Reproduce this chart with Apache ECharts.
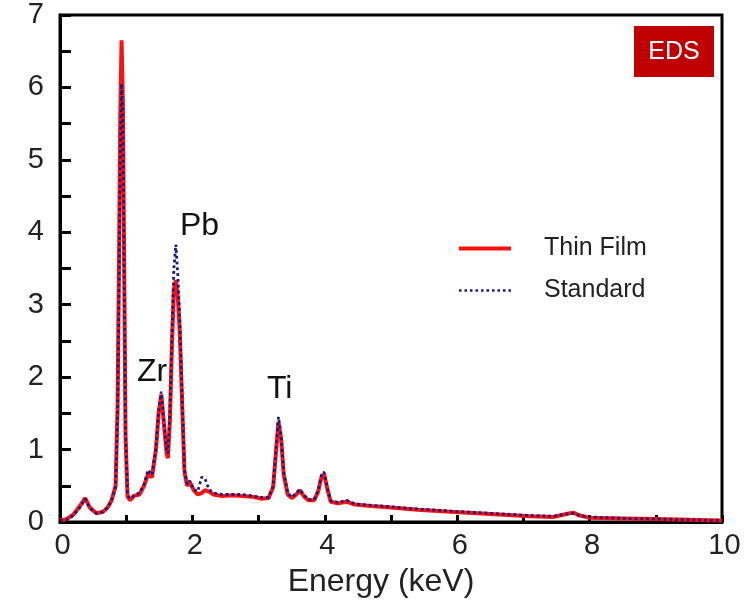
<!DOCTYPE html>
<html>
<head>
<meta charset="utf-8">
<script src="https://cdn.jsdelivr.net/npm/echarts@6/dist/echarts.min.js"></script>
<style>
  html, body { margin: 0; padding: 0; background: #fff; }
  #chart { width: 747px; height: 608px; }
</style>
</head>
<body>
<div id="chart"></div>
<script>
// energy grid (keV) and the two spectra
var energy = [0.00, 0.10, 0.20, 0.30, 0.38, 0.45, 0.55, 0.65, 0.72, 0.78, 0.84, 0.87, 0.89, 0.91, 0.93, 0.95, 0.97, 0.99,
  1.02, 1.06, 1.12, 1.20, 1.27, 1.33, 1.39, 1.45, 1.49, 1.53, 1.57, 1.61, 1.63, 1.66, 1.69, 1.72, 1.75, 1.78, 1.81, 1.85, 1.88,
  1.92, 1.96, 2.02, 2.08, 2.14, 2.19, 2.25, 2.32, 2.45, 2.60, 2.75, 2.90, 3.05, 3.15, 3.22, 3.27, 3.30, 3.34, 3.38, 3.44, 3.50,
  3.57, 3.62, 3.68, 3.75, 3.84, 3.90, 3.95, 3.99, 4.04, 4.09, 4.20, 4.33, 4.45, 4.70, 5.00, 5.40, 5.90, 6.30, 6.70, 7.10, 7.45,
  7.65, 7.75, 7.85, 8.00, 8.50, 9.00, 9.50, 10.0];
var thinFilm = [0.02, 0.04, 0.10, 0.22, 0.33, 0.20, 0.12, 0.14, 0.20, 0.30, 0.50, 1.60, 3.50, 5.60, 6.65, 5.80, 3.50, 1.20,
  0.35, 0.30, 0.36, 0.38, 0.50, 0.66, 0.62, 1.00, 1.50, 1.76, 1.35, 0.95, 0.88, 1.40, 2.40, 3.20, 3.34, 3.10, 2.60, 1.50, 0.70,
  0.50, 0.55, 0.44, 0.38, 0.40, 0.44, 0.42, 0.38, 0.36, 0.37, 0.36, 0.35, 0.32, 0.33, 0.48, 1.05, 1.38, 1.15, 0.65, 0.38, 0.33,
  0.38, 0.44, 0.36, 0.30, 0.30, 0.42, 0.62, 0.66, 0.45, 0.28, 0.26, 0.28, 0.24, 0.22, 0.20, 0.17, 0.14, 0.12, 0.10, 0.08, 0.07,
  0.11, 0.13, 0.09, 0.06, 0.05, 0.04, 0.03, 0.02];
var standard = [0.02, 0.03, 0.09, 0.20, 0.32, 0.19, 0.12, 0.14, 0.20, 0.30, 0.48, 1.50, 3.20, 5.00, 6.05, 5.60, 3.40, 1.20,
  0.38, 0.32, 0.37, 0.40, 0.52, 0.72, 0.65, 1.05, 1.55, 1.80, 1.40, 1.00, 0.95, 1.50, 2.60, 3.50, 3.83, 3.40, 2.80, 1.55, 0.72,
  0.52, 0.57, 0.45, 0.42, 0.62, 0.60, 0.45, 0.40, 0.38, 0.38, 0.38, 0.36, 0.34, 0.34, 0.50, 1.10, 1.45, 1.20, 0.68, 0.40, 0.34,
  0.40, 0.45, 0.38, 0.31, 0.31, 0.44, 0.65, 0.69, 0.47, 0.29, 0.27, 0.30, 0.25, 0.23, 0.21, 0.18, 0.15, 0.13, 0.11, 0.09, 0.08,
  0.11, 0.12, 0.09, 0.07, 0.05, 0.04, 0.03, 0.02];
var seriesNames = ['Thin Film', 'Standard'];
var peakLabels = ['Pb', 'Zr', 'Ti'];

var FONT = '"Liberation Sans", Arial, sans-serif';
var RED = '#ff1010', NAVY = '#1a1a80';

function pairs(vals) {
  var out = [];
  for (var i = 0; i < energy.length; i++) out.push([energy[i], vals[i]]);
  return out;
}

var chart = echarts.init(document.getElementById('chart'), null, { renderer: 'canvas' });

var option = {
  backgroundColor: '#fff',
  animation: false,
  textStyle: { fontFamily: FONT },
  grid: {
    left: 60, right: 25, top: 15, bottom: 86,
    show: true, borderColor: '#000', borderWidth: 3, backgroundColor: 'transparent'
  },
  legend: {
    data: [
      { name: seriesNames[0], lineStyle: { width: 4, color: RED } },
      { name: seriesNames[1], lineStyle: { width: 2.5, color: NAVY, type: [2.5, 3] } }
    ],
    orient: 'vertical',
    left: 452, top: 231,
    itemWidth: 52, itemHeight: 20, itemGap: 17,
    itemStyle: { opacity: 0 },
    textStyle: { fontFamily: FONT, fontSize: 25, color: '#222', padding: [0, 0, 0, 28] }
  },
  xAxis: {
    type: 'value', min: 0, max: 10, interval: 2,
    name: 'Energy (keV)', nameLocation: 'middle', nameGap: 44,
    nameTextStyle: { fontFamily: FONT, fontSize: 32, color: '#222', padding: [0, 20, 0, 0] },
    axisLine: { lineStyle: { color: '#000', width: 3 } },
    axisTick: { inside: true, length: 7, lineStyle: { color: '#000', width: 3 } },
    minorTick: { show: true, splitNumber: 2, length: 7, lineStyle: { color: '#000', width: 3 } },
    axisLabel: { fontFamily: FONT, fontSize: 29, color: '#222', margin: 9, padding: [0, 0, 0, 5] },
    splitLine: { show: false }
  },
  yAxis: {
    type: 'value', min: 0, max: 7, interval: 1,
    axisLine: { show: true, lineStyle: { color: '#000', width: 3 } },
    axisTick: { show: true, inside: true, length: 11, lineStyle: { color: '#000', width: 3 } },
    minorTick: { show: true, splitNumber: 2, length: 11, lineStyle: { color: '#000', width: 3 } },
    axisLabel: { fontFamily: FONT, fontSize: 29, color: '#222', margin: 16 },
    splitLine: { show: false }
  },
  series: [
    {
      name: seriesNames[0], type: 'line', symbol: 'none',
      data: pairs(thinFilm),
      itemStyle: { color: RED },
      lineStyle: { color: RED, width: 4 }
    },
    {
      name: seriesNames[1], type: 'line', symbol: 'none',
      data: pairs(standard),
      itemStyle: { color: NAVY },
      lineStyle: { color: NAVY, width: 2.8, type: [2.8, 3] }
    }
  ],
  graphic: [
    { type: 'text', left: 180, top: 210, style: { text: peakLabels[0], font: '32px ' + FONT, fill: '#111' } },
    { type: 'text', left: 137, top: 356, style: { text: peakLabels[1], font: '32px ' + FONT, fill: '#111' } },
    { type: 'text', left: 267, top: 373, style: { text: peakLabels[2], font: '32px ' + FONT, fill: '#111' } },
    {
      type: 'group', left: 634, top: 26,
      children: [
        { type: 'rect', shape: { x: 0, y: 0, width: 80, height: 51 }, style: { fill: '#c00000' } },
        { type: 'text', x: 40, y: 26, style: { text: 'EDS', font: '25px ' + FONT, fill: '#fff', align: 'center', verticalAlign: 'middle' } }
      ]
    }
  ]
};

chart.setOption(option);
</script>
</body>
</html>
